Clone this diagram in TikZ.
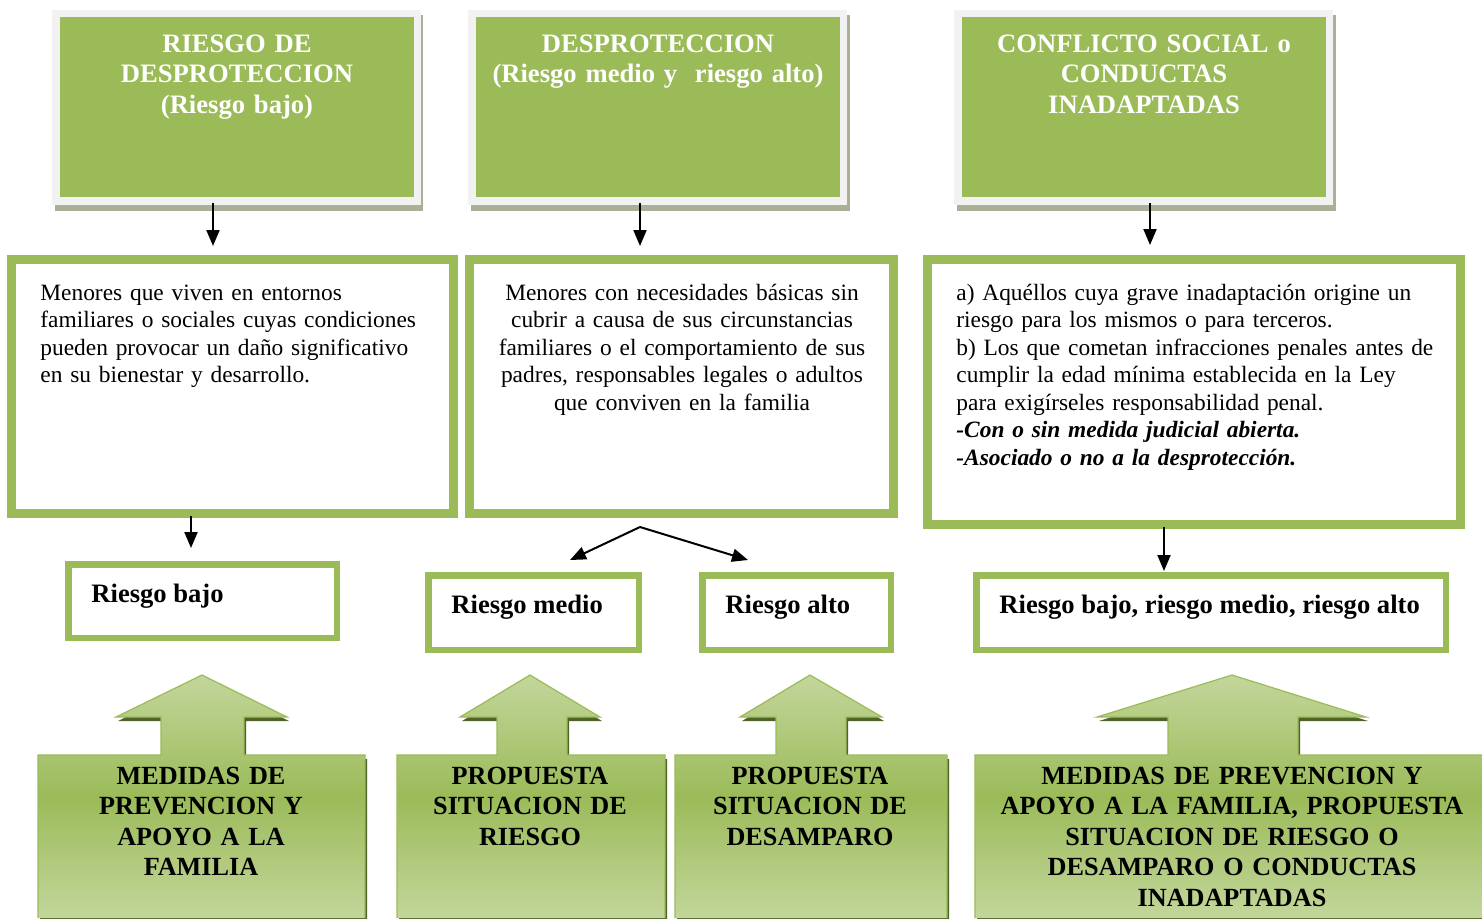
\documentclass[tikz,border=0pt]{standalone}
\usepackage{fontspec}
\setmainfont{Liberation Serif}
\usetikzlibrary{arrows.meta,calc,fit}
\definecolor{og}{HTML}{9BBB59}
\definecolor{ogl}{HTML}{C3D69B}
\definecolor{ogd}{HTML}{4F6228}
\definecolor{frm}{HTML}{F2F2F2}
\definecolor{shd}{HTML}{A8B095}
\newcommand{\hfnt}{\fontsize{13.3}{15.4}\selectfont\bfseries}
\newcommand{\ffnt}{\fontsize{13.1}{15.3}\selectfont\bfseries}
\newcommand{\bfnt}{\fontsize{11.7}{13.75}\selectfont}
\newcommand{\uparrowshape}[7]{%
  \begin{scope}[shift={(2,4)}]
    \fill[ogd] (#1,918) -- (#1,755) -- (#3,755) -- (#3,717) -- (#5,717) -- (#7,675) -- (#6,717) -- (#4,717) -- (#4,755) -- (#2,755) -- (#2,918) -- cycle;
  \end{scope}
  \shade[top color=ogl, bottom color=ogl, middle color=og] (#1,918) -- (#1,755) -- (#3,755) -- (#3,717) -- (#5,717) -- (#7,675) -- (#6,717) -- (#4,717) -- (#4,755) -- (#2,755) -- (#2,918) -- cycle;
  \draw[og, line width=0.6pt] (#1,918) -- (#1,755) -- (#3,755) -- (#3,717) -- (#5,717) -- (#7,675) -- (#6,717) -- (#4,717) -- (#4,755) -- (#2,755) -- (#2,918);
}
\begin{document}
\begin{tikzpicture}[x=0.5pt,y=-0.5pt,
  hbox/.style={fill=og, inner sep=0pt},
  midbox/.style={draw=og, line width=4pt, fill=white, inner sep=-2pt},
  thinline/.style={draw=og, line width=1pt},
  rbox/.style={draw=og, line width=3.25pt, fill=white, inner sep=-1.625pt},
  htext/.style={text=white, font=\hfnt, align=center, text width=180pt, anchor=base, inner sep=0pt},
  btext/.style={font=\bfnt, text width=#1, inner sep=0pt},
  rtext/.style={font=\hfnt, anchor=base west, inner sep=0pt},
  ftext/.style={font=\ffnt, align=center, text width=#1, anchor=base, inner sep=0pt},
  arr/.style={line width=1pt, -{Triangle[length=8pt,width=6.5pt]}}
]
\useasboundingbox (0,0) rectangle (1482,918);
\fill[white] (0,0) rectangle (1482,918);

% ---------- header boxes ----------
\fill[shd] (55,15) rectangle (423,211);
\fill[frm] (52,10) rectangle (421,205);
\node[hbox, fit={(60,17)(414,197)}] (h1) {};
\fill[shd] (471,15) rectangle (850,211);
\fill[frm] (468,10) rectangle (847,205);
\node[hbox, fit={(476,17)(840,197)}] (h2) {};
\fill[shd] (957,15) rectangle (1336,211);
\fill[frm] (954,10) rectangle (1333,205);
\node[hbox, fit={(962,17)(1326,197)}] (h3) {};

\node[htext] (h1t) at ($(h1.north)+(0,35.5)$) {RIESGO DE\\DESPROTECCION\\(Riesgo bajo)};
\node[htext] (h2t) at ($(h2.north)+(0,35.5)$) {DESPROTECCION\\(Riesgo medio y~ riesgo alto)};
\node[htext] (h3t) at ($(h3.north)+(0,35.5)$) {CONFLICTO SOCIAL o\\CONDUCTAS\\INADAPTADAS};

% ---------- middle boxes ----------
\node[midbox, fit={(7,255)(458,518)}] (m1) {};
\draw[thinline] ($(m1.north west)+(8,8)$) rectangle ($(m1.south east)+(-8,-8)$);
\node[midbox, fit={(465,255)(898,518)}] (m2) {};
\draw[thinline] ($(m2.north west)+(8,8)$) rectangle ($(m2.south east)+(-8,-8)$);
\node[midbox, fit={(923,255)(1465,529)}] (m3) {};
\draw[thinline] ($(m3.north west)+(8,8)$) rectangle ($(m3.south east)+(-8,-8)$);

\node[btext=210pt, align=left, anchor=base west] (m1t) at (40,300)
 {Menores que viven en entornos\\familiares o sociales cuyas condiciones\\pueden provocar un daño significativo\\en su bienestar y desarrollo.};
\node[btext=205pt, align=center, anchor=base] (m2t) at (682,300)
 {Menores con necesidades básicas sin\\cubrir a causa de sus circunstancias\\familiares o el comportamiento de sus\\padres, responsables legales o adultos\\que conviven en la familia};
\node[btext=255pt, align=left, anchor=base west] (m3t) at (956,300)
 {a) Aquéllos cuya grave inadaptación origine un\\riesgo para los mismos o para terceros.\\b) Los que cometan infracciones penales antes de\\cumplir la edad mínima establecida en la Ley\\para exigírseles responsabilidad penal.\\\textbf{\textit{-Con o sin medida judicial abierta.}}\\\textbf{\textit{-Asociado o no a la desprotección.}}};

% ---------- risk boxes ----------
\node[rbox, fit={(65,561)(340,641)}] (r1) {};
\node[rbox, fit={(425,572)(642,653)}] (r2) {};
\node[rbox, fit={(699,572)(894,653)}] (r3) {};
\node[rbox, fit={(973,572)(1449,653)}] (r4) {};
\node[rtext] (r1t) at (91,602) {Riesgo bajo};
\node[rtext] (r2t) at (451,613) {Riesgo medio};
\node[rtext] (r3t) at (725,613) {Riesgo alto};
\node[rtext] (r4t) at (999,613) {Riesgo bajo, riesgo medio, riesgo alto};

% ---------- connectors ----------
\draw[arr] ($(h1.south)+(-24,6)$) -- ($(m1.north)+(-19.5,-9)$);
\draw[arr] ($(h2.south)+(-18,6)$) -- ($(m2.north)+(-41.5,-9)$);
\draw[arr] ($(h3.south)+(6,6)$) -- ($(m3.north)+(-44,-10)$);
\draw[arr] ($(m1.south)+(-41.5,-2)$) -- ($(r1.north)+(-11.5,-13)$);
\draw[arr] ($(m2.south)+(-41.5,9)$) -- ($(r2.north)+(36.5,-12)$);
\draw[arr] ($(m2.south)+(-41.5,9)$) -- ($(r3.north)+(-48.5,-12)$);
\draw[arr] ($(m3.south)+(-30,-2)$) -- ($(r4.north)+(-47,-1)$);

% ---------- bottom arrow shapes ----------
\uparrowshape{38}{365}{161}{244}{116}{287}{202}
\uparrowshape{397}{665}{497}{567}{460}{600}{530}
\uparrowshape{675}{947}{776}{846}{740}{882}{810}
\uparrowshape{975}{1484}{1168}{1298}{1097}{1366}{1232}

\node[ftext=170pt] (b1t) at (201,784) {MEDIDAS DE\\PREVENCION Y\\APOYO A LA\\FAMILIA};
\node[ftext=170pt] (b2t) at (530,784) {PROPUESTA\\SITUACION DE\\RIESGO};
\node[ftext=170pt] (b3t) at (810,784) {PROPUESTA\\SITUACION DE\\DESAMPARO};
\node[ftext=250pt] (b4t) at (1232,784) {MEDIDAS DE PREVENCION Y\\APOYO A LA FAMILIA, PROPUESTA\\SITUACION DE RIESGO O\\DESAMPARO O CONDUCTAS\\INADAPTADAS};
\end{tikzpicture}
\end{document}
